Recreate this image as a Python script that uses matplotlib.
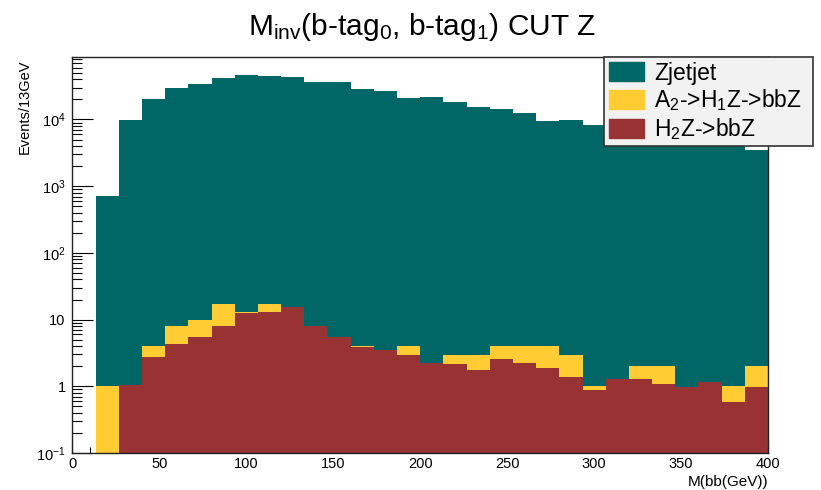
import numpy as np
import matplotlib
matplotlib.use("Agg")
import matplotlib.pyplot as plt
from matplotlib.patches import Patch
from matplotlib.ticker import FixedLocator, FuncFormatter, LogLocator, MultipleLocator

plt.rcParams.update({
    "font.family": "Liberation Sans",
    "mathtext.fontset": "custom",
    "mathtext.rm": "Liberation Sans",
    "mathtext.it": "Liberation Sans:italic",
})

# binning: 30 bins of 13.33 GeV between 0 and 400
edges = np.linspace(0, 400, 31)

# events per bin (bottom of stack first)
h2z = [0, 0, 1.06, 2.76, 4.32, 5.56, 7.94, 12.6, 12.9, 15.3,
       7.94, 5.5, 3.94, 3.47, 2.92, 2.24, 2.17, 1.78, 2.6, 2.24,
       1.88, 1.36, 0.88, 1.29, 1.29, 1.08, 0.98, 1.17, 0.58, 0.98]
a2_h1z = [0, 1.0, 0, 1.27, 3.6, 4.44, 9.2, 0.4, 4.3, 0,
          0, 0, 0.1, 0, 1.1, 0, 0.82, 1.2, 1.43, 1.79,
          2.15, 1.63, 0.12, 0, 0.7, 0.92, 0, 0, 0.42, 1.02]
zjetjet = [0, 720, 9800, 20500, 29200, 34300, 41700, 45700, 44700, 43100,
           36300, 36300, 28800, 26900, 20700, 21400, 18400, 15500, 14500, 12600,
           9440, 9660, 8130, 7700, 6800, 6500, 5600, 5000, 4400, 3440]

labels = ["Zjetjet", "A$_2$->H$_1$Z->bbZ", "H$_2$Z->bbZ"]
colors = ["#006666", "#ffcc33", "#993333"]

s1 = np.array(h2z)
s2 = s1 + np.array(a2_h1z)
s3 = s2 + np.array(zjetjet)
floor = 1e-4

fig = plt.figure(figsize=(8.21, 4.90), dpi=100)
ax = fig.add_axes([0.0883, 0.0755, 0.8471, 0.8082])
ax.set_yscale("log")

# stacked histogram, ROOT THStack style
ax.stairs(np.maximum(s3, floor), edges, baseline=np.maximum(s2, floor), fill=True, color=colors[0], lw=0)
ax.stairs(np.maximum(s2, floor), edges, baseline=np.maximum(s1, floor), fill=True, color=colors[1], lw=0)
ax.stairs(np.maximum(s1, floor), edges, baseline=floor, fill=True, color=colors[2], lw=0)

ax.set_xlim(0, 400)
ax.set_ylim(0.1, 10 ** 4.937)
ax.set_axisbelow(True)

# ticks inside, left/bottom only
ax.xaxis.set_major_locator(MultipleLocator(50))
ax.xaxis.set_minor_locator(MultipleLocator(10))
ax.yaxis.set_major_locator(FixedLocator([0.1, 1, 10, 100, 1000, 10000]))
ax.yaxis.set_minor_locator(LogLocator(base=10, subs=np.arange(2, 10)))

def ylab(v, pos):
    e = int(round(np.log10(v)))
    if e == 0:
        return "1"
    if e == 1:
        return "10"
    return "10$^{%d}$" % e

ax.yaxis.set_major_formatter(FuncFormatter(ylab))
ax.yaxis.set_minor_formatter(FuncFormatter(lambda v, p: ""))
ax.tick_params(axis="y", which="major", direction="in", length=15, width=0.8, pad=5, labelsize=10.5)
ax.tick_params(axis="y", which="minor", direction="in", length=7.5, width=0.8)
ax.tick_params(axis="x", which="major", direction="in", length=8.5, width=0.8, pad=3, labelsize=10.5)
ax.tick_params(axis="x", which="minor", direction="in", length=4.5, width=0.8)
for s in ax.spines.values():
    s.set_linewidth(1.0)
    s.set_color("#222222")
    s.set_zorder(3)

fig.text(0.514, 0.978, r"M$_{\mathrm{inv}}$(b-tag$_0$, b-tag$_1$) CUT Z",
         ha="center", va="top", fontsize=21.5)
fig.text(25 / 821, 1 - 59 / 490, "Events/13GeV", rotation=90, ha="center", va="top", fontsize=10.5)
fig.text(768 / 821, 1 - 482 / 490, "M(bb(GeV))", ha="right", va="center", fontsize=11)

handles = [Patch(facecolor=c, edgecolor=c) for c in colors]
leg = ax.legend(handles, labels, loc="upper left", mode="expand",
                bbox_to_anchor=(604 / 821, 1 - 147 / 490, 209 / 821, 90 / 490),
                bbox_transform=fig.transFigure, borderaxespad=0, fontsize=16.5,
                handlelength=1.55, handleheight=0.9, handletextpad=0.45,
                labelspacing=0.12, borderpad=0.2, fancybox=False, framealpha=1)
leg.get_frame().set_facecolor("#f2f2f2")
leg.get_frame().set_edgecolor("#333333")
leg.get_frame().set_linewidth(1.2)
leg.set_zorder(5)

fig.savefig("out.png", dpi=100)
